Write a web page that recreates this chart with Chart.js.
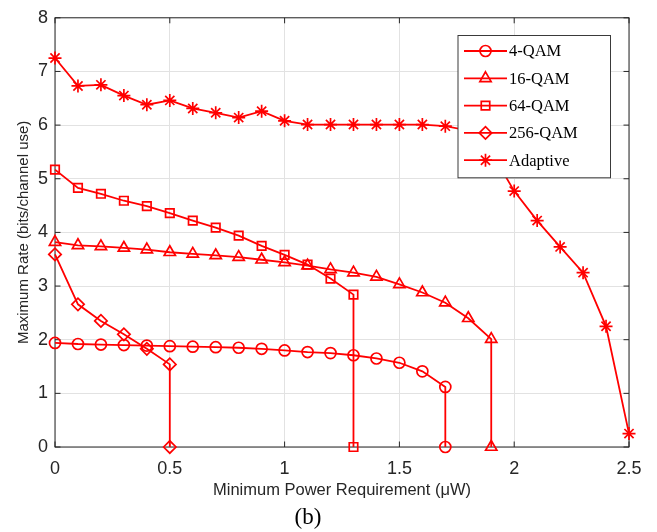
<!DOCTYPE html>
<html><head><meta charset="utf-8">
<script src="https://cdn.jsdelivr.net/npm/chart.js@4.4.0/dist/chart.umd.min.js"></script>
<style>html,body{margin:0;padding:0;background:#fff;}#wrap{width:657px;height:532px;}</style>
</head><body><div id="wrap"><canvas id="c" width="657" height="532"></canvas></div>
<script>
const seriesNames = ['4-QAM', '16-QAM', '64-QAM', '256-QAM', 'Adaptive'];
const power4 = [0,0.1,0.2,0.3,0.4,0.5,0.6,0.7,0.8,0.9,1.0,1.1,1.2,1.3,1.4,1.5,1.6,1.7,1.7];
const rate4 = [1.94,1.92,1.91,1.90,1.89,1.88,1.87,1.86,1.85,1.83,1.80,1.77,1.75,1.71,1.65,1.57,1.41,1.12,0];
const power16 = [0,0.1,0.2,0.3,0.4,0.5,0.6,0.7,0.8,0.9,1.0,1.1,1.2,1.3,1.4,1.5,1.6,1.7,1.8,1.9,1.9];
const rate16 = [3.82,3.76,3.74,3.71,3.68,3.63,3.60,3.57,3.54,3.49,3.44,3.38,3.31,3.25,3.17,3.03,2.88,2.69,2.40,2.01,0];
const power64 = [0,0.1,0.2,0.3,0.4,0.5,0.6,0.7,0.8,0.9,1.0,1.1,1.2,1.3,1.3];
const rate64 = [5.17,4.83,4.72,4.59,4.49,4.36,4.22,4.09,3.94,3.75,3.58,3.40,3.14,2.84,0];
const power256 = [0,0.1,0.2,0.3,0.4,0.5,0.5];
const rate256 = [3.59,2.66,2.35,2.10,1.83,1.54,0];
const powerAdaptive = [0,0.1,0.2,0.3,0.4,0.5,0.6,0.7,0.8,0.9,1.0,1.1,1.2,1.3,1.4,1.5,1.6,1.7,1.8,1.9,2.0,2.1,2.2,2.3,2.4,2.5];
const rateAdaptive = [7.25,6.73,6.75,6.55,6.38,6.46,6.31,6.23,6.14,6.26,6.08,6.01,6.01,6.01,6.01,6.01,6.01,5.98,5.90,5.50,4.77,4.22,3.73,3.25,2.25,0.25];
const xTickValues = [0,0.5,1,1.5,2,2.5];
const xTickLabels = ['0','0.5','1','1.5','2','2.5'];
const yTickValues = [0,1,2,3,4,5,6,7,8];
const yTickLabels = ['0','1','2','3','4','5','6','7','8'];
const xTitle = 'Minimum Power Requirement (\u03bcW)';
const yTitle = 'Maximum Rate (bits/channel use)';
const caption = '(b)';

const markerStyles = ['circle','triangle','rect','rectRot','star'];
const markerRadii = [5.5, 6.5, 6, 6.2, 6.5];
const RED = '#ff0000';
const AX = '#262626';

function pts(xs, ys) { return xs.map((x, i) => ({x: x, y: ys[i]})); }
const allX = [power4, power16, power64, power256, powerAdaptive];
const allY = [rate4, rate16, rate64, rate256, rateAdaptive];

const datasets = seriesNames.map((name, i) => ({
  label: name,
  data: pts(allX[i], allY[i]),
  borderColor: RED,
  backgroundColor: 'rgba(0,0,0,0)',
  borderWidth: 1.8,
  pointStyle: markerStyles[i],
  pointRadius: markerRadii[i],
  pointBorderWidth: 1.7,
  pointBorderColor: RED,
  pointBackgroundColor: 'rgba(0,0,0,0)',
  tension: 0,
  clip: false
}));

const framePlugin = {
  id: 'frame',
  beforeDatasetsDraw(chart) {
    const {ctx, chartArea: a, scales} = chart;
    ctx.save();
    ctx.strokeStyle = AX;
    ctx.lineWidth = 1;
    ctx.strokeRect(a.left, a.top, a.right - a.left, a.bottom - a.top);
    const tl = 5.5;
    ctx.beginPath();
    xTickValues.forEach(v => {
      const px = scales.x.getPixelForValue(v);
      ctx.moveTo(px, a.bottom); ctx.lineTo(px, a.bottom - tl);
      ctx.moveTo(px, a.top); ctx.lineTo(px, a.top + tl);
    });
    yTickValues.forEach(v => {
      const py = scales.y.getPixelForValue(v);
      ctx.moveTo(a.left, py); ctx.lineTo(a.left + tl, py);
      ctx.moveTo(a.right, py); ctx.lineTo(a.right - tl, py);
    });
    ctx.stroke();
    ctx.restore();
  }
};

const legendPlugin = {
  id: 'boxLegend',
  afterDatasetsDraw(chart) {
    const {ctx, chartArea: a} = chart;
    const bx = a.right - 18.5 - 152.5, by = a.top + 17.7, bw = 152.5, bh = 142.3;
    ctx.save();
    ctx.fillStyle = '#ffffff';
    ctx.fillRect(bx, by, bw, bh);
    ctx.strokeStyle = '#3a3a3a';
    ctx.lineWidth = 1;
    ctx.strokeRect(bx, by, bw, bh);
    ctx.font = '16.5px "Liberation Serif", "Times New Roman", serif';
    ctx.textBaseline = 'middle';
    ctx.textAlign = 'left';
    chart.data.datasets.forEach((ds, i) => {
      const y = by + 15.5 + i * 27.3;
      ctx.strokeStyle = RED;
      ctx.lineWidth = 1.8;
      ctx.beginPath();
      ctx.moveTo(bx + 6, y); ctx.lineTo(bx + 49, y);
      ctx.stroke();
      ctx.lineWidth = 1.7;
      ctx.fillStyle = 'rgba(0,0,0,0)';
      Chart.helpers.drawPoint(ctx, {pointStyle: ds.pointStyle, radius: ds.pointRadius, rotation: 0, borderWidth: 1.7}, bx + 27.5, y);
      ctx.fillStyle = '#000000';
      ctx.fillText(ds.label, bx + 51, y + 1);
    });
    ctx.restore();
  }
};

const captionPlugin = {
  id: 'caption',
  afterDraw(chart) {
    const {ctx} = chart;
    ctx.save();
    ctx.font = '23px "Liberation Serif", "Times New Roman", serif';
    ctx.fillStyle = '#000000';
    ctx.textAlign = 'center';
    ctx.textBaseline = 'middle';
    ctx.fillText(caption, 308, 518);
    ctx.restore();
  }
};

new Chart(document.getElementById('c'), {
  type: 'line',
  data: {datasets: datasets},
  options: {
    responsive: false,
    animation: false,
    events: [],
    layout: {padding: {top: 15, right: 28, left: 0, bottom: 33}},
    plugins: {
      legend: {display: false},
      tooltip: {enabled: false},
      title: {display: false}
    },
    scales: {
      x: {
        type: 'linear', min: 0, max: 2.5,
        afterBuildTicks: s => { s.ticks = xTickValues.map(v => ({value: v})); },
        afterFit: s => { s.height = 52; },
        grid: {color: '#e2e2e2', drawTicks: false, lineWidth: 1},
        border: {display: false},
        ticks: {color: AX, padding: 11, maxRotation: 0, autoSkip: false,
          callback: (v) => xTickLabels[xTickValues.indexOf(v)],
          font: {family: '"Liberation Sans", Arial, sans-serif', size: 18}},
        title: {display: true, text: xTitle, color: AX,
          font: {family: '"Liberation Sans", Arial, sans-serif', size: 16.5, lineHeight: 1},
          padding: {top: 0, bottom: 0}}
      },
      y: {
        type: 'linear', min: 0, max: 8,
        afterBuildTicks: s => { s.ticks = yTickValues.map(v => ({value: v})); },
        afterFit: s => { s.width = 55; },
        grid: {color: '#e2e2e2', drawTicks: false, lineWidth: 1},
        border: {display: false},
        ticks: {color: AX, padding: 7,
          callback: (v) => yTickLabels[yTickValues.indexOf(v)],
          font: {family: '"Liberation Sans", Arial, sans-serif', size: 18}},
        title: {display: true, text: yTitle, color: AX,
          font: {family: '"Liberation Sans", Arial, sans-serif', size: 15, lineHeight: 1},
          padding: {top: 16, bottom: 0}}
      }
    }
  },
  plugins: [framePlugin, legendPlugin, captionPlugin]
});
</script></body></html>
